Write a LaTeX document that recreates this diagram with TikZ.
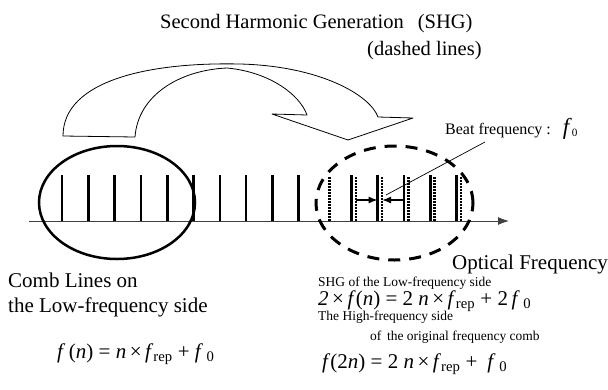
\documentclass[tikz,border=0pt]{standalone}
\usepackage{fontspec}
\setmainfont{Liberation Serif}
\usepackage{tikz}
\usetikzlibrary{arrows.meta, positioning}

\newcommand{\itf}{\textit{f}}
\newcommand{\itn}{\textit{n}}
\newcommand{\rep}{\textsubscript{rep}}
\newcommand{\nul}{\textsubscript{0}}

\begin{document}
\begin{tikzpicture}[
      x=1pt, y=-1pt,
      combline/.style = {line width=2.6pt},
      shgline/.style  = {line width=2.5pt, dash pattern=on 1.6pt off 1.4pt},
      axisline/.style = {line width=0.9pt, draw=black!75, -{Latex[length=11pt,width=8pt]}},
      beatarr/.style  = {line width=1.2pt, -{Latex[length=9pt,width=7pt]}},
      bigarrow/.style = {line width=0.8pt, line join=round},
      titletxt/.style = {font=\fontsize{20.5}{24}\selectfont, inner sep=0pt, anchor=base west},
      bigtxt/.style   = {font=\fontsize{21}{25}\selectfont, inner sep=0pt, anchor=base west},
      eqtxt/.style    = {font=\fontsize{21}{24}\selectfont, inner sep=0pt, anchor=base west},
      smalltxt/.style = {font=\fontsize{13.5}{16}\selectfont, inner sep=0pt, anchor=base west},
      beattxt/.style  = {font=\fontsize{16}{19}\selectfont, inner sep=0pt, anchor=base west}
    ]
      \useasboundingbox (0,0) rectangle (608,389);

      % ===================== Titles =====================
      \node[titletxt] (title)    at (160,28) {Second Harmonic Generation\hspace{14pt}(SHG)};
      \node[titletxt] (dashnote) at (367,55) {(dashed lines)};

      % ===================== SHG arrow =====================
      \draw[bigarrow] (63,136) .. controls (63,80) and (150,62) .. (240,64)
            .. controls (320,66) and (370,95) .. (378,117) -- (413,118) -- (348,140)
            -- (272,114) -- (307,115) .. controls (300,95) and (270,72) .. (227,68)
            .. controls (180,70) and (138,95) .. (135,137) -- cycle;

      % ===================== Frequency axis =====================
      \coordinate (axstart) at (29,221);
      \coordinate (axend)   at (509,221);
      \draw[axisline] (axstart) -- (axend);

      % comb lines (gap at k=10)
      \foreach \k in {0,...,9,11,12,...,15}
        \draw[combline] (62+26.3*\k,221) -- (62+26.3*\k,175);
      % SHG lines (dotted)
      \foreach \k in {10,...,15}
        \draw[shgline] (66.5+26.3*\k,221) -- (66.5+26.3*\k,177);

      % ===================== Ellipses =====================
      \draw[line width=2.5pt] (117,202.5) ellipse [x radius=78pt, y radius=56.5pt];
      \draw[line width=3pt, dash pattern=on 12pt off 9pt] (394.5,203) ellipse [x radius=78.5pt, y radius=57pt];

      % ===================== Beat frequency =====================
      \coordinate (beatA) at (66.5+26.3*11,200);
      \coordinate (beatB) at (62+26.3*12,200);
      \coordinate (beatC) at (62+26.3*13,200);
      \coordinate (beatD) at (66.5+26.3*12,200);
      \draw[beatarr] (beatA) -- (beatB);
      \draw[beatarr] (beatC) -- (beatD);

      \node[beattxt] (beat) at (445,134) {Beat frequency :\hspace{12pt}{\fontsize{23}{25}\selectfont\itf}\nul};
      \coordinate (leadtop) at (485,142);
      \coordinate (leadend) at (386,195);
      \draw[line width=0.7pt] (leadtop) -- (leadend);

      \node[bigtxt] (optfreq) at (452,269) {Optical Frequency};

      % ===================== Low-frequency side =====================
      \node[bigtxt] (combnote)  at (8,287) {Comb Lines on};
      \node[bigtxt] (combnote2) at (8,312) {the Low-frequency side};
      \node[eqtxt]  (combeq)    at (57,358) {\itf\,(\itn) = \itn\,×\,\itf\rep\ + \itf\,\nul};

      % ===================== High-frequency side =====================
      \node[smalltxt] (shgnote)   at (318,286) {SHG of the Low-frequency side};
      \node[eqtxt]    (shgeq)     at (318,305) {\textit{2}\,×\,\itf(\itn) = 2 \itn\,×\,\itf\rep\ + 2\,\itf\,\nul};
      \node[smalltxt] (highnote)  at (318,320) {The High-frequency side};
      \node[smalltxt] (highnote2) at (370,340) {of\, the original frequency comb};
      \node[eqtxt]    (higheq)    at (322,368) {\itf(2\itn) = 2 \itn\,×\,\itf\rep\ +\hspace{10pt}\itf\,\nul};

    \end{tikzpicture}
\end{document}
